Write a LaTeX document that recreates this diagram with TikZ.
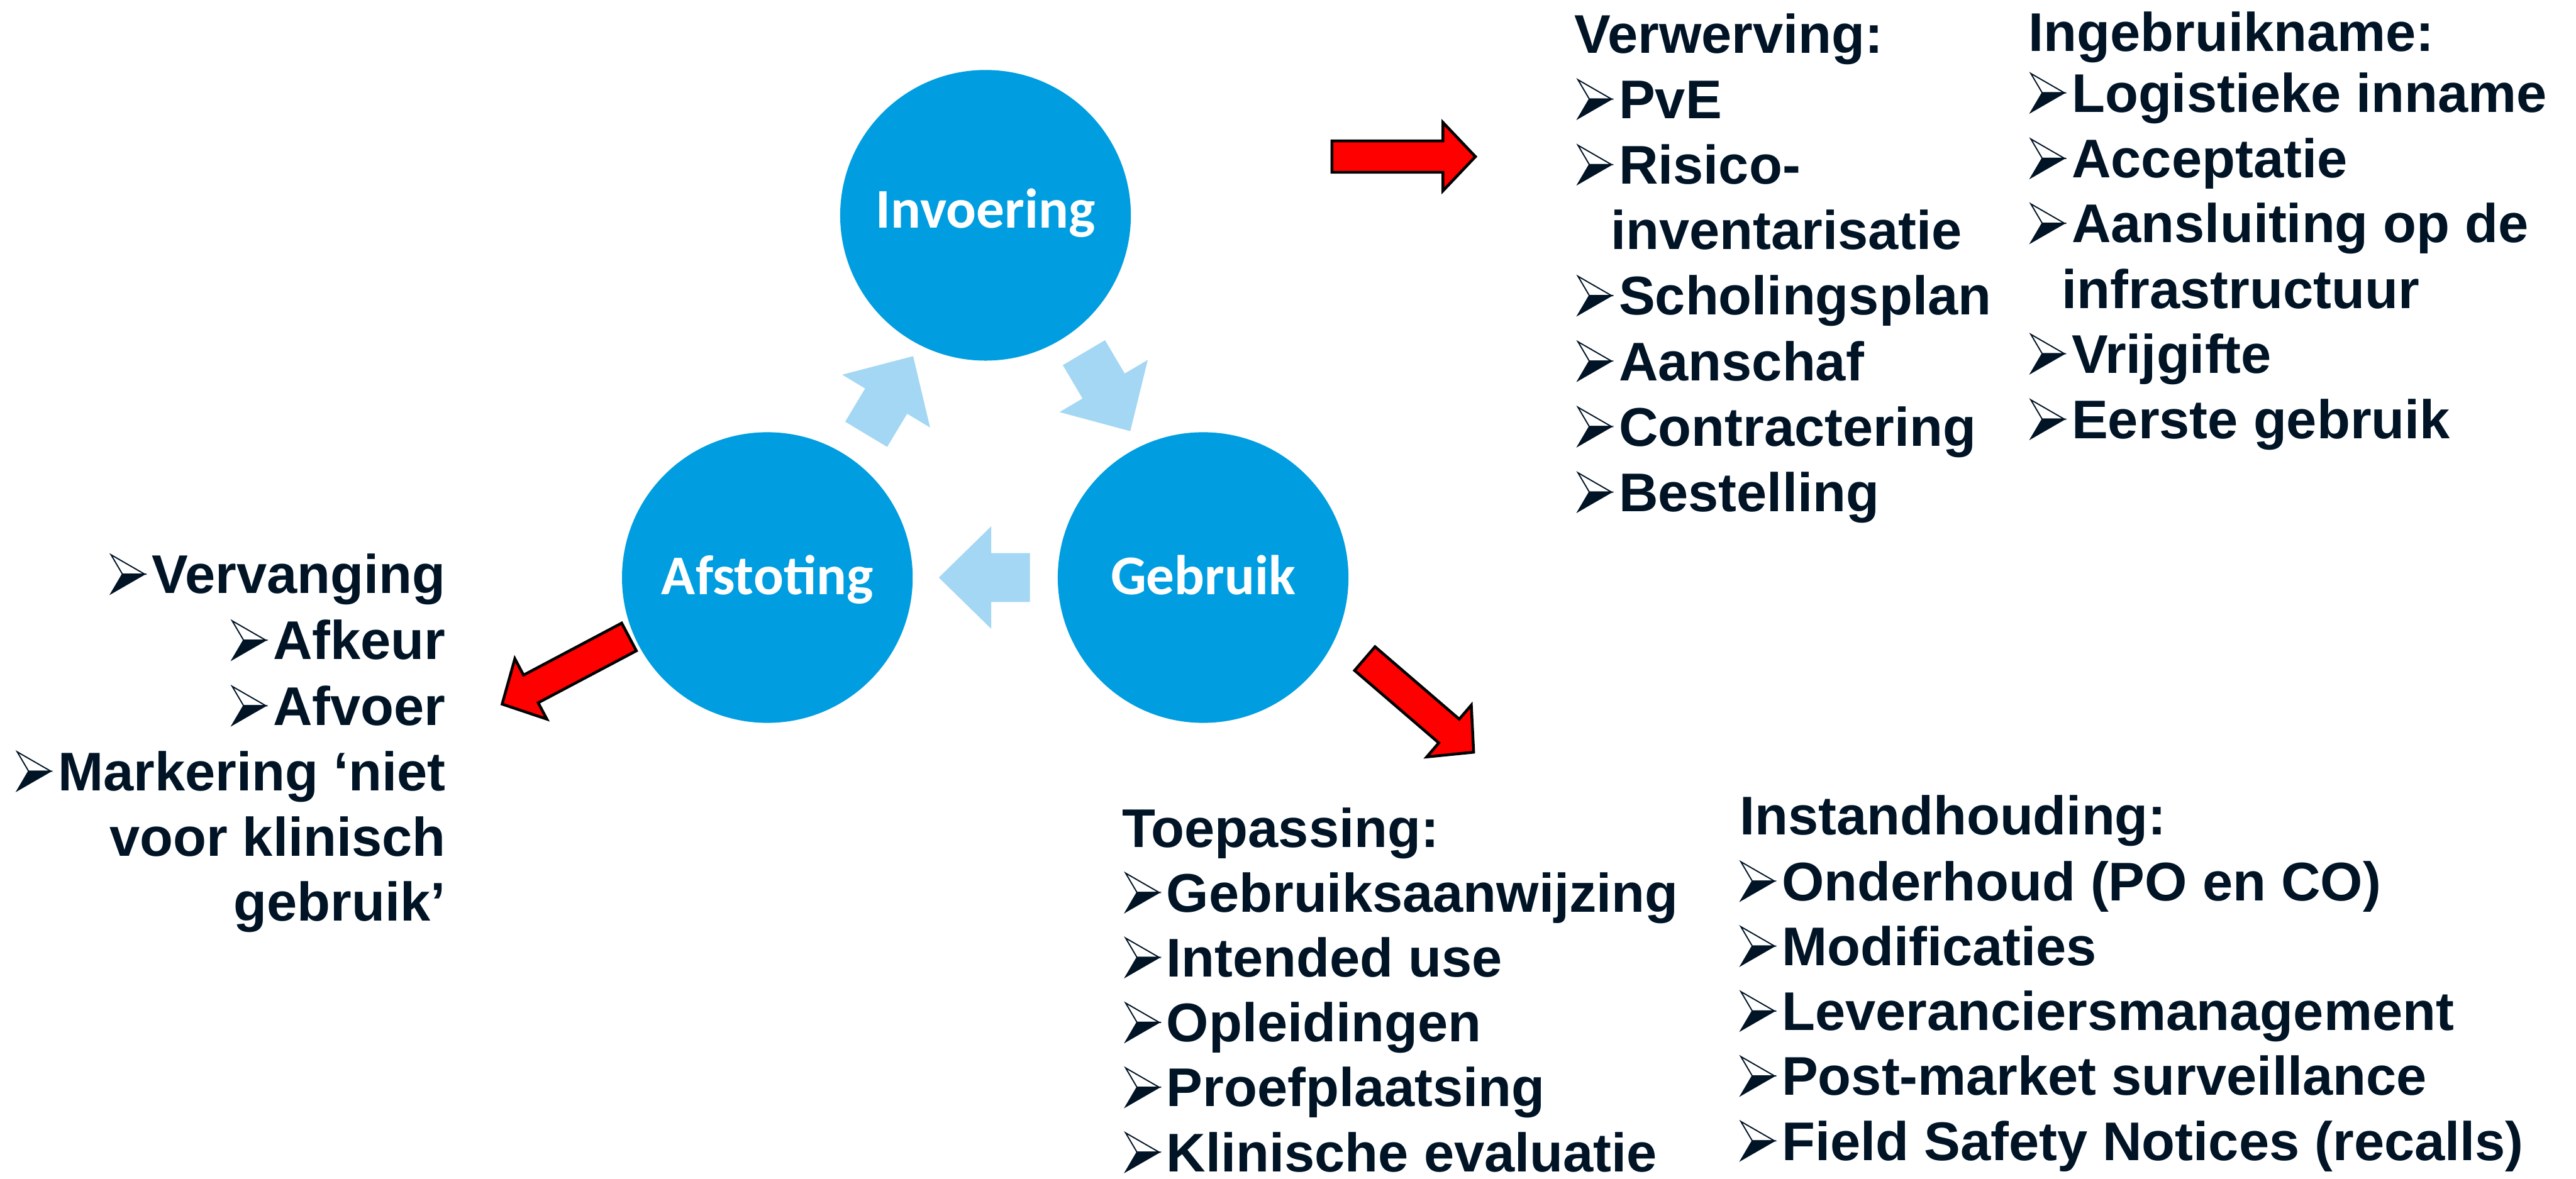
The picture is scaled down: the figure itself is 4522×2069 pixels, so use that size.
\documentclass[tikz,border=0pt]{standalone}
\usepackage{fontspec}
\newfontfamily\listfont{Liberation Sans}
\newfontfamily\circfont{Carlito}
\definecolor{circblue}{RGB}{0,158,224}
\definecolor{lightarr}{RGB}{164,215,243}
\definecolor{txt}{RGB}{0,20,38}
\begin{document}
\begin{tikzpicture}[x=0.01cm,y=-0.01cm,
  circ/.style={circle, fill=circblue, minimum size=5.1cm, inner sep=0pt},
  clab/.style={font=\circfont\bfseries\fontsize{28pt}{34pt}\selectfont, text=white, inner sep=0pt, anchor=base},
  lt/.style={font=\listfont\bfseries\fontsize{27.2pt}{32pt}\selectfont, text=txt, inner sep=0pt, anchor=base west},
  rt/.style={lt, anchor=base east},
  redarr/.style={fill=red, draw=black, line width=1.4pt, line join=miter},
  bul/.pic={
    \filldraw[fill=white, draw=txt, line width=0.6pt, line join=miter] (0,-68) -- (59,-34) -- (20,-34) -- cycle;
    \filldraw[fill=txt, draw=txt, line width=0.6pt, line join=miter] (20,-34) -- (59,-34) -- (0,0) -- cycle;
  },
  redarrow/.pic={
    \draw[redarr] (0,-27.5) -- (195,-27.5) -- (195,-60) -- (252,0) -- (195,60) -- (195,27.5) -- (0,27.5) -- cycle;
  },
  bluearrow/.pic={
    \fill[lightarr] (0,-43) -- (68,-43) -- (68,-90) -- (160,0) -- (68,90) -- (68,43) -- (0,43) -- cycle;
  }
]
\fill[white] (0,0) rectangle (4522,2069);
\useasboundingbox (0,0) rectangle (4522,2069);

% circles
\node[circ] (inv) at (1730,378) {};
\node[circ] (afs) at (1347,1014) {};
\node[circ] (geb) at (2112,1014) {};
\node[clab] (invl) at ([yshift=-0.22cm]inv.center) {Invoering};
\node[clab] (afsl) at ([yshift=-0.30cm]afs.center) {Afstoting};
\node[clab] (gebl) at ([yshift=-0.30cm]geb.center) {Gebruik};

% light blue cycle arrows
\pic[rotate=59.0] at (1520.5,762.5) {bluearrow};
\pic[rotate=-59.4] at (1902.7,619.2) {bluearrow};
\pic[rotate=180] at (1808,1014) {bluearrow};

% red arrows
\pic at (2338,275) {redarrow};
\pic[rotate=-40.7] at (2395.8,1156.3) {redarrow};
\pic[rotate=207.9] at (1104.2,1118.3) {redarrow};

% Verwerving
\node[lt] (a0) at (2763,93) {Verwerving:};
\node[lt] (a1) at (2841,208) {PvE};
\node[lt] (a2) at (2841,323) {Risico-};
\node[lt] (a3) at (2827,438) {inventarisatie};
\node[lt] (a4) at (2841,553) {Scholingsplan};
\node[lt] (a5) at (2841,668) {Aanschaf};
\node[lt] (a6) at (2841,783) {Contractering};
\node[lt] (a7) at (2841,898) {Bestelling};
\foreach \n in {a1,a2,a4,a5,a6,a7}{\pic at ([xshift=-0.71cm]\n.base west) {bul};}

% Ingebruikname
\node[lt] (b0) at (3560,90) {Ingebruikname:};
\node[lt] (b1) at (3636,197) {Logistieke inname};
\node[lt] (b2) at (3636,312) {Acceptatie};
\node[lt] (b3) at (3636,426) {Aansluiting op de};
\node[lt] (b4) at (3619,541) {infrastructuur};
\node[lt] (b5) at (3636,655) {Vrijgifte};
\node[lt] (b6) at (3636,770) {Eerste gebruik};
\foreach \n in {b1,b2,b3,b5,b6}{\pic at ([xshift=-0.71cm]\n.base west) {bul};}

% Toepassing
\node[lt] (c0) at (1969,1488) {Toepassing:};
\node[lt] (c1) at (2047,1601) {Gebruiksaanwijzing};
\node[lt] (c2) at (2047,1715) {Intended use};
\node[lt] (c3) at (2047,1829) {Opleidingen};
\node[lt] (c4) at (2047,1943) {Proefplaatsing};
\node[lt] (c5) at (2047,2057) {Klinische evaluatie};
\foreach \n in {c1,c2,c3,c4,c5}{\pic at ([xshift=-0.71cm]\n.base west) {bul};}

% Instandhouding
\node[lt] (d0) at (3053,1466) {Instandhouding:};
\node[lt] (d1) at (3127,1581) {Onderhoud (PO en CO)};
\node[lt] (d2) at (3127,1695) {Modificaties};
\node[lt] (d3) at (3127,1809) {Leveranciersmanagement};
\node[lt] (d4) at (3127,1923) {Post-market surveillance};
\node[lt] (d5) at (3127,2037) {Field Safety Notices (recalls)};
\foreach \n in {d1,d2,d3,d4,d5}{\pic at ([xshift=-0.71cm]\n.base west) {bul};}

% Afstoting list (right aligned)
\node[rt] (e1) at (783,1042) {Vervanging};
\node[rt] (e2) at (783,1158) {Afkeur};
\node[rt] (e3) at (783,1273) {Afvoer};
\node[rt] (e4) at (783,1388) {Markering ‘niet};
\node[rt] (e5) at (783,1503) {voor klinisch};
\node[rt] (e6) at (783,1617) {gebruik’};
\foreach \n in {e1,e2,e3,e4}{\pic at ([xshift=-0.71cm]\n.base west) {bul};}
\end{tikzpicture}
\end{document}
